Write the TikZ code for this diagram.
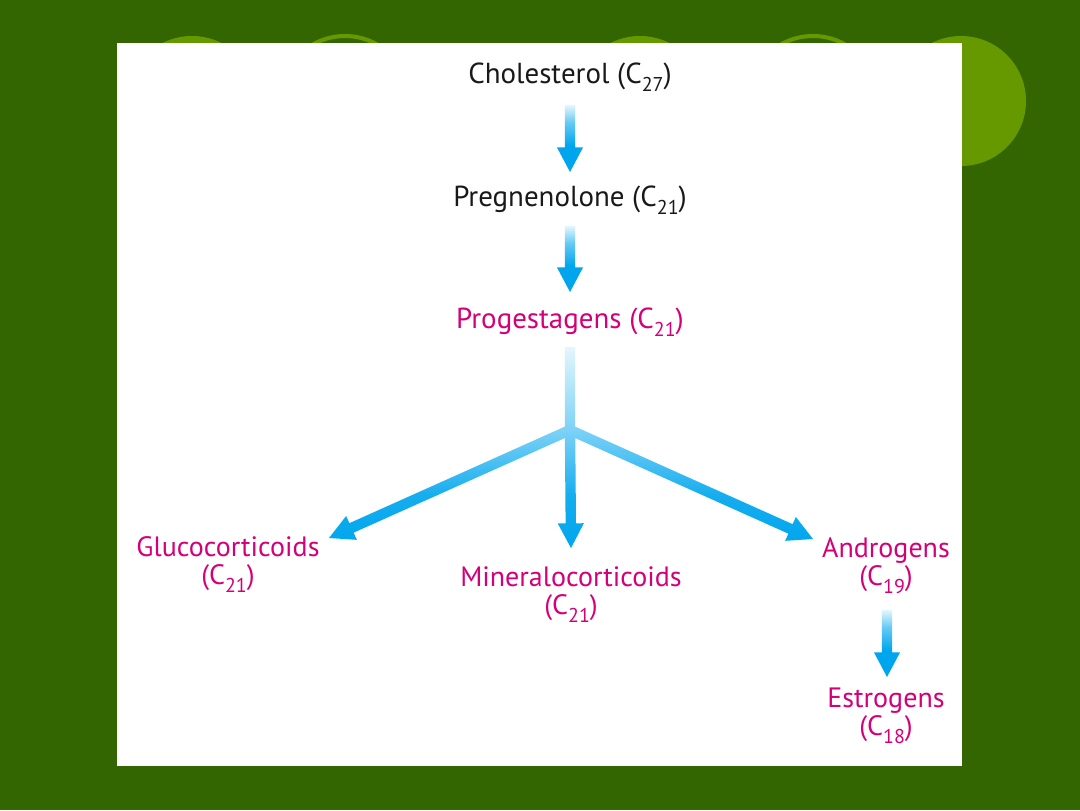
\documentclass[tikz,border=0pt]{standalone}
\usepackage{fontspec}
\setmainfont{PT Sans}
\usetikzlibrary{calc}
\definecolor{bggreen}{RGB}{51,102,0}
\definecolor{circgreen}{RGB}{102,153,0}
\definecolor{arrowblue}{RGB}{0,166,237}
\definecolor{paleblue}{RGB}{228,246,253}
\definecolor{hormone}{RGB}{212,0,122}
\definecolor{ink}{RGB}{25,25,25}
\pgfdeclareverticalshading{arrowshade}{100bp}{%
  color(0bp)=(arrowblue); color(25bp)=(arrowblue); color(45bp)=(arrowblue);
  color(62bp)=(arrowblue!60!white); color(75bp)=(paleblue); color(100bp)=(paleblue)}
\pgfdeclareverticalshading{forkshade}{100bp}{%
  color(0bp)=(arrowblue); color(25bp)=(arrowblue); color(38bp)=(arrowblue!92!white);
  color(54bp)=(arrowblue!52!white); color(75bp)=(paleblue); color(100bp)=(paleblue)}
\newcommand{\csub}[1]{\raisebox{-0.3em}{\fontsize{15}{15}\selectfont #1}}
\def\shaftw{3.9pt}
\def\headw{9.8pt}
\def\headlen{18.5pt}
% polygon of an arrow from #2 to #3; #1 names its head base
\newcommand{\arrowpath}[3]{%
  ($(#2)!\shaftw!90:(#3)$) -- ($(#1)!\shaftw!90:(#3)$) -- ($(#1)!\headw!90:(#3)$) -- (#3) --
  ($(#1)!\headw!-90:(#3)$) -- ($(#1)!\shaftw!-90:(#3)$) -- ($(#2)!\shaftw!-90:(#3)$) -- cycle}
\begin{document}
\begin{tikzpicture}[x=0.75pt,y=-0.75pt,
  lbl/.style={inner sep=0pt, anchor=base, align=center},
  toplbl/.style={lbl, font=\fontsize{21.7}{21}\selectfont},
  lowlbl/.style={lbl, font=\fontsize{21}{21}\selectfont},
  blacktext/.style={text=ink},
  hormonetext/.style={text=hormone},
  ring/.style={draw=circgreen, line width=3pt},
  blob/.style={fill=circgreen},
  flow/.style={shading=arrowshade},
  fork/.style={shading=forkshade}]
\useasboundingbox (0,0) rectangle (1080,810);
\fill[bggreen] (0,0) rectangle (1080,810);
\fill[blob] (192,101) circle[radius=48.75pt];
\draw[ring] (345,101) circle[radius=48.75pt];
\fill[blob] (640,101) circle[radius=48.75pt];
\draw[ring] (813,101) circle[radius=48.75pt];
\fill[blob] (961,101) circle[radius=48.75pt];
\fill[white] (117,43) rectangle (962,766);

\node[toplbl, blacktext] (chol) at (570,83) {Cholesterol (C\csub{27})};
\node[toplbl, blacktext] (preg) at (570,206) {Pregnenolone (C\csub{21})};
\node[toplbl, hormonetext] (prog) at (570,328) {Progestagens (C\csub{21})};
\node[lowlbl, hormonetext] (gluco) at (228,584) {Glucocorticoids\\(C\csub{21})};
\node[lowlbl, hormonetext] (mineral) at (571,614) {Mineralocorticoids\\(C\csub{21})};
\node[lowlbl, hormonetext] (andro) at (886,585) {Androgens\\(C\csub{19})};
\node[lowlbl, hormonetext] (estro) at (886,735) {Estrogens\\(C\csub{18})};

% arrow 1
\coordinate (a1s) at ($(chol.base)+(0,22)$);
\coordinate (a1e) at ($(preg.base)+(0,-34)$);
\coordinate (a1b) at ($(a1e)!\headlen!(a1s)$);
\shade[flow] \arrowpath{a1b}{a1s}{a1e};
% arrow 2
\coordinate (a2s) at ($(preg.base)+(0,20)$);
\coordinate (a2e) at ($(prog.base)+(0,-36)$);
\coordinate (a2b) at ($(a2e)!\headlen!(a2s)$);
\shade[flow] \arrowpath{a2b}{a2s}{a2e};
% branching arrows
\coordinate (stem) at ($(prog.base)+(0,19)$);
\coordinate (j) at ($(prog.base)+(0,102)$);
\coordinate (mide) at ($(mineral.base)+(0,-66)$);
\coordinate (lefte) at ($(gluco.base)+(101,-46)$);
\coordinate (righte) at ($(andro.base)+(-73,-46)$);
\coordinate (midb) at ($(mide)!\headlen!(j)$);
\coordinate (leftb) at ($(lefte)!\headlen!(j)$);
\coordinate (rightb) at ($(righte)!\headlen!(j)$);
\shade[fork]
  ($(stem)!\shaftw!90:(j)$) -- ($(j)!\shaftw!-90:(stem)$) -- ($(j)!\shaftw!90:(stem)$) -- ($(stem)!\shaftw!-90:(j)$) -- cycle
  \arrowpath{midb}{j}{mide}
  \arrowpath{leftb}{j}{lefte}
  \arrowpath{rightb}{j}{righte};
% arrow 4
\coordinate (a4s) at ($(andro.base)+(1,25)$);
\coordinate (a4e) at ($(estro.base)+(1,-58)$);
\coordinate (a4b) at ($(a4e)!\headlen!(a4s)$);
\shade[flow] \arrowpath{a4b}{a4s}{a4e};
\end{tikzpicture}
\end{document}
